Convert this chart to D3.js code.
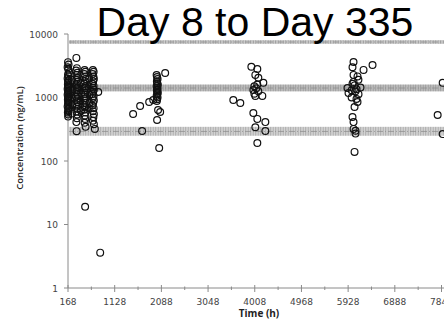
<!DOCTYPE html>
<html>
<head>
<meta charset="utf-8">
<script src="https://cdnjs.cloudflare.com/ajax/libs/d3/7.8.5/d3.min.js"></script>
<style>
  html, body { margin: 0; padding: 0; background: #fff; }
  svg { display: block; }
</style>
</head>
<body>
<svg id="chart" width="444" height="328"></svg>
<script>
// observed concentrations (time in h, conc in ng/mL)
const obsTime = [
  // first weeks, four dense columns
  168,180,160,175,190,168,178,160,185,170,175,165,190,170,180,160,175,185,168,178,160,190,170,180,165,175,185,168,178,160,190,172,180,165,175,170,
  340,350,335,360,345,355,340,365,350,335,360,345,355,340,350,365,335,355,345,360,340,350,365,345,355,350,340,345,
  510,525,505,520,530,515,505,525,515,530,510,520,505,525,515,530,510,520,505,525,515,520,510,530,520,
  680,695,675,690,700,685,670,695,680,700,685,670,695,680,700,685,670,695,680,700,690,680,700,720,
  790,830,
  // in-between samples of the first weeks
  250,260,245,255,250,430,440,425,435,600,590,610,605,595,
  // around 2088
  1507,1651,1837,1692,1920,
  1990,2166,2000,2010,1995,2005,2015,1990,2000,2010,1995,2005,2015,2000,1990,2010,2000,1995,2020,2063,2000,2043,
  // around 4008
  3938,4061,4020,4082,4185,3979,4082,4020,4164,3567,3711,3979,4061,4226,4020,4226,4061,4000,4060,4040,4000,
  // around 5928
  6039,6430,6245,6018,6039,6121,6039,6018,5915,6183,5936,6142,6121,6060,6018,6039,6039,6080,6080,6060,
  6060,6100,6000,6080,6140,6000,6100,
  // right edge
  7872,7769,7872
];
const obsConc = [
  3600,3300,3000,2750,2500,2300,2150,2000,1900,1800,1700,1620,1550,1480,1420,1360,1300,1250,1200,1150,1100,1050,1000,960,920,880,840,800,760,720,690,650,610,580,540,500,
  4200,2900,2650,2450,2250,2050,1900,1780,1650,1550,1450,1380,1300,1220,1150,1080,1020,960,900,840,780,720,660,600,540,470,410,295,
  2700,2550,2350,2150,1950,1800,1650,1500,1400,1300,1200,1120,1040,970,900,830,760,700,640,580,520,460,400,345,19,
  2700,2550,2350,2150,1950,1800,1650,1520,1420,1320,1230,1140,1060,980,900,820,750,680,610,550,490,430,380,320,
  1220,3.6,
  1900,1350,1000,760,560,1700,1180,880,620,2000,1500,1100,820,680,
  550,735,849,296,910,
  2260,2430,2100,1950,1800,1680,1580,1500,1420,1360,1300,1240,1180,1120,1060,1000,940,880,636,592,443,160,
  3050,2800,2270,2050,1700,1310,1250,1060,1060,914,818,570,460,410,340,296,192,1500,1600,1400,1150,
  3620,3250,2720,3000,2270,2150,1760,1650,1410,1440,1180,1130,851,707,494,410,320,300,270,139,
  1550,1350,1300,1250,1900,1000,950,
  1700,530,265
];

// grey model bands: centre, lower, upper (ng/mL)
const bandMid = [7480, 1410, 292];
const bandLo = [7000, 1250, 250];
const bandHi = [8000, 1600, 345];
const bandShade = ['#b8b8b8', '#a4a4a4', '#c4c4c4'];

const xTicks = [168, 1128, 2088, 3048, 4008, 4968, 5928, 6888, 7848];
const xMinor = [648, 1608, 2568, 3528, 4488, 5448, 6408, 7368];
const yTicks = [1, 10, 100, 1000, 10000];

const svg = d3.select('#chart');
const width = +svg.attr('width');

const x = d3.scaleLinear().domain([168, 7848]).range([68, 441.5]);
const y = d3.scaleLog().domain([1, 10000]).range([288, 34]);

const axisColor = '#8a8a8a';
const tickFont = '"DejaVu Sans", sans-serif';

// hatch pattern for the bands
const defs = svg.append('defs');
const pat = defs.append('pattern')
    .attr('id', 'hatch')
    .attr('patternUnits', 'userSpaceOnUse')
    .attr('width', 5)
    .attr('height', 6);
[[0.5, '#777', 0.5], [2, '#999', 0.4], [3.5, '#666', 0.35]].forEach(p => {
    pat.append('line')
        .attr('x1', p[0]).attr('x2', p[0])
        .attr('y1', 0).attr('y2', 6)
        .attr('stroke', p[1])
        .attr('stroke-width', 0.7)
        .attr('opacity', p[2]);
});

bandMid.forEach((m, i) => {
    const top = y(bandHi[i]), bot = y(bandLo[i]);
    svg.append('rect')
        .attr('x', x(168) + 1).attr('y', top)
        .attr('width', width - x(168)).attr('height', bot - top)
        .attr('fill', bandShade[i])
        .attr('opacity', 0.75);
    svg.append('rect')
        .attr('x', x(168) + 1).attr('y', top)
        .attr('width', width - x(168)).attr('height', bot - top)
        .attr('fill', 'url(#hatch)');
    svg.append('line')
        .attr('x1', x(168) + 1).attr('x2', width)
        .attr('y1', y(m)).attr('y2', y(m))
        .attr('stroke', '#8c8c8c')
        .attr('stroke-width', 1)
        .attr('stroke-dasharray', '6,2,1,2')
        .attr('opacity', 0.7);
});

// axes
svg.append('line')
    .attr('x1', x(168)).attr('x2', x(168))
    .attr('y1', y(10000)).attr('y2', y(1))
    .attr('stroke', axisColor);
svg.append('line')
    .attr('x1', x(168)).attr('x2', width)
    .attr('y1', y(1)).attr('y2', y(1))
    .attr('stroke', axisColor);

svg.selectAll('.ytick')
    .data(yTicks)
    .enter().append('line')
    .attr('x1', x(168) - 4).attr('x2', x(168))
    .attr('y1', d => y(d)).attr('y2', d => y(d))
    .attr('stroke', axisColor);

svg.selectAll('.ylab')
    .data(yTicks)
    .enter().append('text')
    .attr('x', 58)
    .attr('y', d => y(d) + 3.5)
    .attr('text-anchor', 'end')
    .attr('font-family', tickFont)
    .attr('font-size', 9)
    .attr('fill', '#444')
    .text(d => d);

svg.selectAll('.xtick')
    .data(xTicks)
    .enter().append('line')
    .attr('x1', d => x(d)).attr('x2', d => x(d))
    .attr('y1', y(1) - 3).attr('y2', y(1) + 4)
    .attr('stroke', axisColor);

svg.selectAll('.xminor')
    .data(xMinor)
    .enter().append('line')
    .attr('x1', d => x(d)).attr('x2', d => x(d))
    .attr('y1', y(1) - 1.5).attr('y2', y(1) + 2)
    .attr('stroke', axisColor);

svg.selectAll('.xlab')
    .data(xTicks)
    .enter().append('text')
    .attr('x', d => x(d))
    .attr('y', 305)
    .attr('text-anchor', 'middle')
    .attr('font-family', tickFont)
    .attr('font-size', 9)
    .attr('fill', '#444')
    .text(d => d);

// axis titles
svg.append('text')
    .attr('transform', 'translate(23,138) rotate(-90)')
    .attr('text-anchor', 'middle')
    .attr('font-family', '"Open Sans", sans-serif')
    .attr('font-weight', 600)
    .attr('font-size', 9.5)
    .attr('fill', '#222')
    .text('Concentration (ng/mL)');

svg.append('text')
    .attr('x', 259)
    .attr('y', 317)
    .attr('text-anchor', 'middle')
    .attr('font-family', '"Open Sans", sans-serif')
    .attr('font-weight', 700)
    .attr('font-size', 10)
    .attr('fill', '#222')
    .text('Time (h)');

// observations
const pts = obsTime.map((t, i) => ({ t: t, c: obsConc[i] }));
svg.selectAll('circle.obs')
    .data(pts)
    .enter().append('circle')
    .attr('class', 'obs')
    .attr('cx', d => x(d.t))
    .attr('cy', d => y(d.c))
    .attr('r', 3.4)
    .attr('fill', 'none')
    .attr('stroke', '#111')
    .attr('stroke-width', 1.2);

// title
svg.append('text')
    .attr('x', 255)
    .attr('y', 36)
    .attr('text-anchor', 'middle')
    .attr('font-family', '"Liberation Sans", Arial, sans-serif')
    .attr('font-size', 41)
    .attr('fill', '#000')
    .text('Day 8 to Day 335');
</script>
</body>
</html>
